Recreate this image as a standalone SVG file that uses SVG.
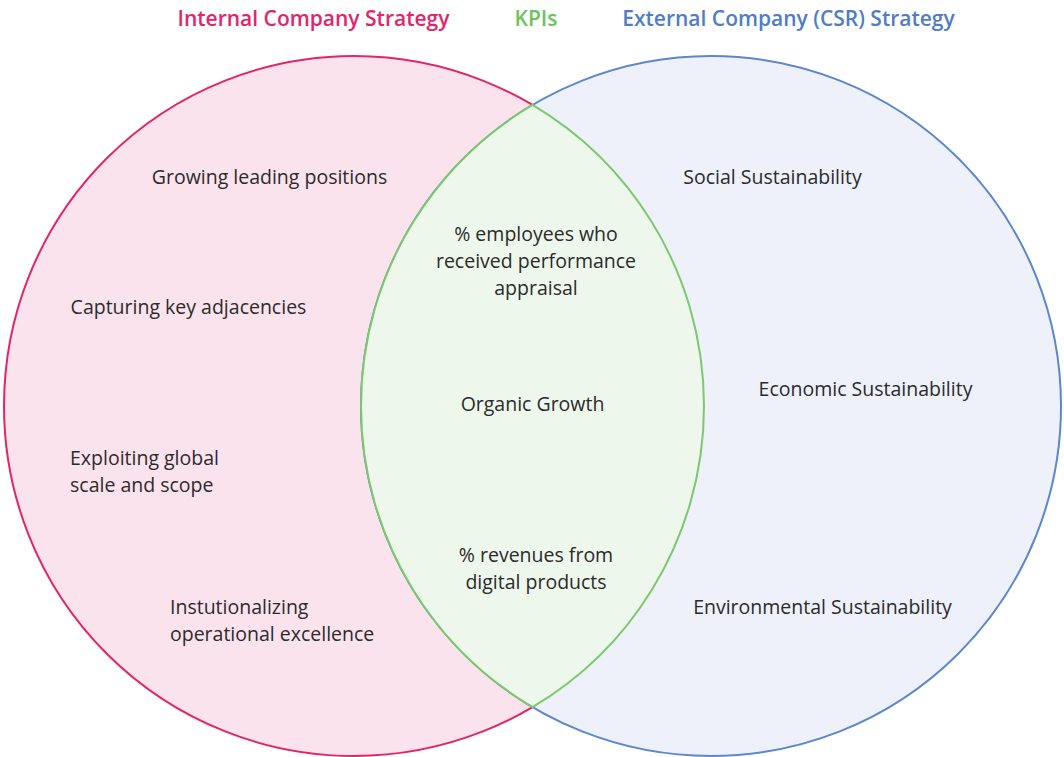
<svg xmlns="http://www.w3.org/2000/svg" width="1064" height="757" viewBox="0 0 1064 757">
<style>
.t{font-family:"Open Sans","Noto Sans",sans-serif;font-size:19.5px;fill:#2b2b2b}
.c{text-anchor:middle}
.h{font-family:"Open Sans","Noto Sans",sans-serif;font-size:21px;font-weight:600;text-anchor:middle}
</style>
<rect width="1064" height="757" fill="#ffffff"/>
<g id="titles">
<text class="h" x="313.5" y="26" fill="#e2256b">Internal Company Strategy</text>
<text class="h" x="536" y="26" fill="#6cc45a">KPIs</text>
<text class="h" x="788.5" y="26" fill="#4f7dc7">External Company (CSR) Strategy</text>
</g>
<g id="internal">
<circle cx="354" cy="406" r="350" fill="#fbe3ee" stroke="#e2256b" stroke-width="2"/>
</g>
<g id="external">
<circle cx="711" cy="406" r="350" fill="#eef1fa" stroke="#5b87cc" stroke-width="2"/>
</g>
<g id="kpis">
<path d="M532.5 104.94 A350 350 0 0 1 532.5 707.06 A350 350 0 0 1 532.5 104.94 Z" fill="#eef7ec" stroke="#7cc86e" stroke-width="2"/>
</g>
<g id="internal-items">
<text class="t c" x="269.5" y="184">Growing leading positions</text>
<text class="t c" x="188.5" y="314">Capturing key adjacencies</text>
<text class="t" x="70" y="465">Exploiting global</text>
<text class="t" x="70" y="492">scale and scope</text>
<text class="t" x="170" y="614">Instutionalizing</text>
<text class="t" x="170" y="641">operational excellence</text>
</g>
<g id="kpi-items">
<text class="t c" x="536" y="241">% employees who</text>
<text class="t c" x="536" y="268">received performance</text>
<text class="t c" x="536" y="295">appraisal</text>
<text class="t c" x="532.5" y="411">Organic Growth</text>
<text class="t c" x="536" y="562">% revenues from</text>
<text class="t c" x="536" y="589">digital products</text>
</g>
<g id="external-items">
<text class="t c" x="772.5" y="184">Social Sustainability</text>
<text class="t c" x="865.5" y="396">Economic Sustainability</text>
<text class="t c" x="822.5" y="614">Environmental Sustainability</text>
</g>
<g id="connectors"></g>
</svg>
